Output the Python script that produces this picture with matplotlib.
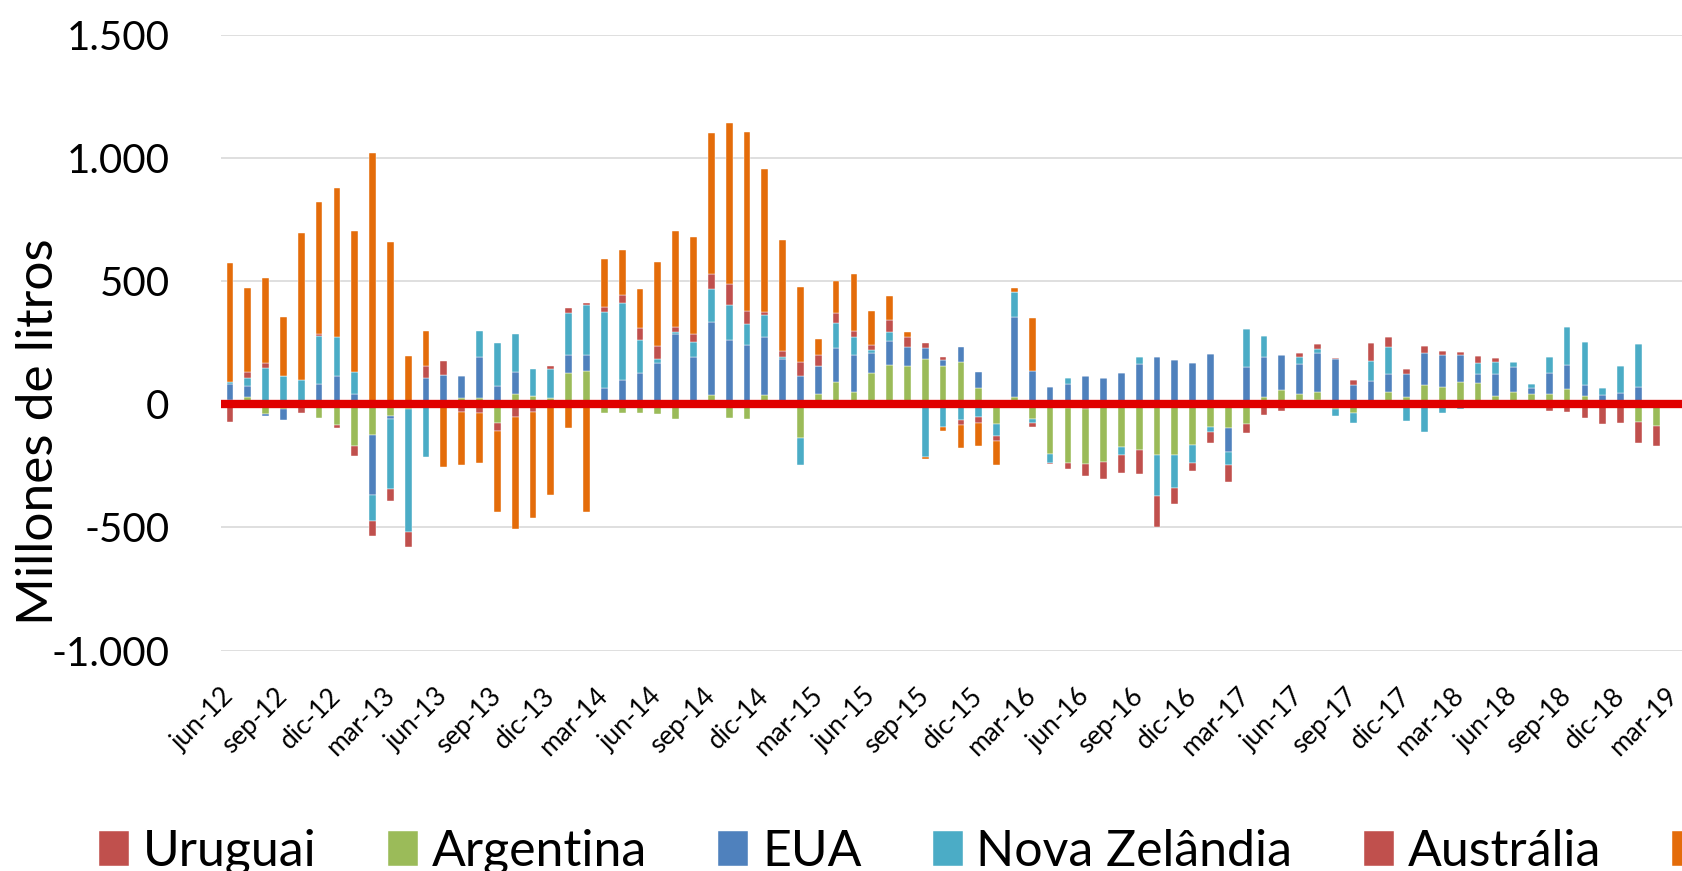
import numpy as np
import pandas as pd
import matplotlib
matplotlib.use("Agg")
import matplotlib.pyplot as plt

plt.rcParams['font.family'] = ['Lato', 'DejaVu Sans']

# monthly categories jun-12 .. mar-19
months = pd.period_range("2012-06", "2019-03", freq="M")

tick_labels = ["jun-12", "sep-12", "dic-12", "mar-13", "jun-13", "sep-13", "dic-13",
               "mar-14", "jun-14", "sep-14", "dic-14", "mar-15", "jun-15", "sep-15",
               "dic-15", "mar-16", "jun-16", "sep-16", "dic-16", "mar-17", "jun-17",
               "sep-17", "dic-17", "mar-18", "jun-18", "sep-18", "dic-18", "mar-19"]

series_names = ["Uruguai", "Argentina", "EUA", "Nova Zelândia", "Austrália", "UE"]
series_colors = ["#C0504D", "#9BBB59", "#4F81BD", "#4BACC6", "#C0504D", "#E46C0A"]

uruguai = [0, 0, 0, 0, 0, 0, 0, 0, 0, 0, 0, 0, 0, 0, 0, 0, 15, 0, 0, 0,
           0, 0, 0, 0, 0, 0, 0, 0, 0, 0, 0, 0, 0, 0, 0, 0, 0, 0, 0, 0,
           0, 0, 0, 0, 0, 0, 0, -15, -20, 0, 0, 0, 0, 0, 0, 0, 0, 0, 0, 0,
           15, 20, 15, 0, 0, 0, 0, 0, 0, 0, 0, 0, 0, 0, 0, 15, 0, 0, 0, 0,
           0, 0]
argentina = [20, 29, -38, -18, 0, -57, -84, -167, -123, -45, -20, 0, 0, 27, 27, -74, 26, 35, 27, 126,
             136, -33, -33, -35, -38, -58, 0, 38, -57, -59, 38, 0, -138, 42, 91, 52, 129, 162, 155, 183,
             155, 174, 68, -80, 29, -59, -203, -223, -223, -232, -171, -185, -204, -207, -164, -91, -96, -81, 29, 58,
             27, 29, -20, -36, 0, 49, 32, 81, 72, 93, 87, 35, 49, 42, 43, 46, 35, 0, 0, -72,
             -88, 0]
eua = [65, 46, -8, -47, 0, 83, 116, 41, -244, -14, 0, 109, 120, 87, 167, 75, 92, 0, 0, 77,
       65, 68, 100, 126, 170, 288, 194, 298, 262, 241, 237, 184, 116, 113, 137, 147, 80, 96, 80, 45,
       26, 61, 62, 0, 326, 138, 70, 83, 116, 109, 128, 165, 191, 181, 167, 204, -97, 151, 165, 143,
       123, 160, 168, 80, 96, 73, 90, 129, 127, 110, 38, 87, 103, 26, 86, 100, 45, 39, 46, 72,
       0, 0]
nova_zelandia = [7, 34, 148, 116, 101, 195, 159, 92, -108, -286, -499, -214, 0, 0, 106, 174, 155, 110, 116, 168,
                 205, 309, 312, 135, 14, 8, 58, 133, 141, 84, 90, 7, -110, 0, 104, 76, 11, 38, -15, -214,
                 -91, -62, -51, -50, 104, -15, -35, 26, 0, 0, -33, 26, -170, -131, -72, -19, -55, 156, 84, 0,
                 29, 17, -25, -41, 81, 113, -67, -113, -33, -20, 42, 50, 22, 15, 62, 152, 175, 29, 109, 173,
                 0, 0]
australia = [-70, 23, 22, 0, -33, 10, -10, -42, -58, -46, -61, 49, 57, -30, -33, -35, -52, -29, 12, 23,
             7, 20, 33, 51, 54, 18, 33, 63, 88, 55, 10, 25, 58, 48, 38, 25, 21, 47, 40, 20,
             10, -23, -26, -19, 0, -19, -3, -24, -47, -69, -73, -98, -123, -65, -36, -46, -68, -35, -41, -26,
             16, 20, 5, 20, 71, 40, 21, 28, 17, 9, 29, 18, 0, -15, -26, -29, -55, -81, -77, -84,
             -79, 0]
ue = [483, 342, 343, 238, 595, 534, 606, 574, 1023, 659, 197, 140, -254, -216, -206, -330, -455, -432, -367, -96,
      -439, 193, 182, 156, 339, 393, 396, 572, 654, 728, 581, 453, 303, 65, 130, 229, 139, 99, 19, -8,
      -15, -93, -91, -99, 16, 214, 0, 0, 0, 0, 0, 0, 0, 0, 0, 0, 0, 0, 0, 0,
      0, 0, 0, 0, 0, 0, 0, 0, 0, 0, 0, 0, 0, 0, 0, 0, 0, 0, 0, 0,
      0, 0]

data = [uruguai, argentina, eua, nova_zelandia, australia, ue]

fig = plt.figure(figsize=(16.83, 8.71), dpi=100)
ax = fig.add_axes([221 / 1683, 1 - 650.5 / 871, 1 - 221 / 1683, (650.5 - 35.4) / 871])

x = np.arange(len(months))
pos_base = np.zeros(len(months))
neg_base = np.zeros(len(months))
for name, color, vals in zip(series_names, series_colors, data):
    v = np.array(vals, dtype=float)
    bottom = np.where(v >= 0, pos_base, neg_base)
    ax.bar(x, v, width=0.38, bottom=bottom, color=color, label=name,
           edgecolor="white", linewidth=0.3, zorder=3)
    pos_base += np.clip(v, 0, None)
    neg_base += np.clip(v, None, 0)

ax.axhline(0, color="#E00000", linewidth=6, zorder=4)

ax.set_xlim(-0.5, len(months) - 0.5)
ax.set_ylim(-1000, 1500)
ax.set_yticks([-1000, -500, 0, 500, 1000, 1500])
ax.set_yticklabels(["-1.000", "-500", "0", "500", "1.000", "1.500"])
ax.set_xticks(x[::3])
ax.set_xticklabels(tick_labels, rotation=45, ha="right", va="center",
                   rotation_mode="anchor")
ax.tick_params(axis="y", length=0, pad=37, labelsize=29)
ax.tick_params(axis="x", length=0, pad=30, labelsize=19)
ax.grid(axis="y", color="#D9D9D9", linewidth=1.2, zorder=0)
ax.set_axisbelow(True)
for s in ax.spines.values():
    s.set_visible(False)

fig.text(39 / 1683, 1 - 432 / 871, "Millones de litros", rotation=90,
         ha="center", va="center", fontsize=37)

fig.legend(loc="center left", bbox_to_anchor=(99 / 1683, 1 - 852 / 871),
           ncol=6, frameon=False, fontsize=36, handlelength=0.6,
           handleheight=0.7, handletextpad=0.28, columnspacing=1.42,
           borderpad=0, borderaxespad=0)

fig.savefig("out.png", dpi=100)
